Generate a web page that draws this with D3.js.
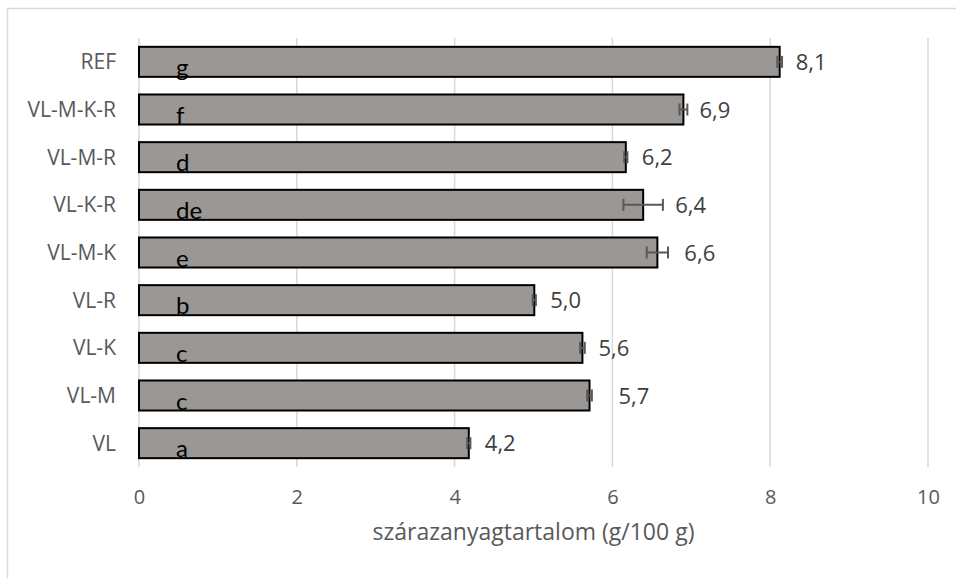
<!DOCTYPE html>
<html>
<head>
<meta charset="utf-8">
<script src="https://cdn.jsdelivr.net/npm/d3@7"></script>
<style>
  html, body { margin: 0; padding: 0; background: #ffffff; }
  svg { display: block; }
  text { font-family: "Open Sans", sans-serif; }
</style>
</head>
<body>
<svg id="chart" width="956" height="578"></svg>
<script>
// Treatments, top to bottom
const categories = ["REF", "VL-M-K-R", "VL-M-R", "VL-K-R", "VL-M-K", "VL-R", "VL-K", "VL-M", "VL"];
// Dry matter content (g/100 g)
const values = [8.12, 6.90, 6.17, 6.39, 6.57, 5.01, 5.62, 5.71, 4.18];
// Standard deviations
const errors = [0.03, 0.05, 0.02, 0.25, 0.135, 0.02, 0.03, 0.03, 0.02];
// Printed value labels
const valueLabels = ["8,1", "6,9", "6,2", "6,4", "6,6", "5,0", "5,6", "5,7", "4,2"];
// Significance group letters
const groups = ["g", "f", "d", "de", "e", "b", "c", "c", "a"];
// Axis ticks
const xTicks = [0, 2, 4, 6, 8, 10];
const axisTitle = "szárazanyagtartalom (g/100 g)";

// Extra horizontal nudge (px) for individual value labels
const labelNudge = [0, 0, 0, 16, 11, 0, 0, 13, 0];

const svg = d3.select("#chart");
const margin = { left: 139, right: 28, top: 38, bottom: 111 };
const W = 956, H = 578;

// Outer chart frame
svg.append("rect")
  .attr("x", 7.5).attr("y", 8.5)
  .attr("width", 1000).attr("height", 1000)
  .attr("fill", "#ffffff")
  .attr("stroke", "#d9d9d9").attr("stroke-width", 1.5);

const x = d3.scaleLinear().domain([0, 10]).range([margin.left, W - margin.right]);
const y = d3.scaleBand().domain(categories)
  .range([margin.top, H - margin.bottom]).paddingInner(0.37).paddingOuter(0.185);

// Vertical gridlines
svg.append("g")
  .selectAll("line").data(xTicks).join("line")
  .attr("x1", d => x(d)).attr("x2", d => x(d))
  .attr("y1", margin.top).attr("y2", H - margin.bottom)
  .attr("stroke", "#d9d9d9").attr("stroke-width", 1.5);

// X axis tick labels
const xAxis = d3.axisBottom(x).tickValues(xTicks).tickSize(0).tickPadding(0)
  .tickFormat(d3.format("d"));
const gx = svg.append("g")
  .attr("transform", `translate(0,${H - margin.bottom})`)
  .call(xAxis);
gx.select(".domain").remove();
gx.selectAll("text")
  .attr("dy", null).attr("y", 37)
  .attr("fill", "#595959").attr("font-size", 20);

// Y axis category labels
const yAxis = d3.axisLeft(y).tickSize(0).tickPadding(23);
const gy = svg.append("g")
  .attr("transform", `translate(${margin.left},0)`)
  .call(yAxis);
gy.select(".domain").remove();
gy.selectAll("text")
  .attr("dy", "0.36em")
  .attr("fill", "#595959").attr("font-size", 21);

// Bars
svg.append("g")
  .selectAll("rect").data(categories).join("rect")
  .attr("x", x(0))
  .attr("y", d => y(d))
  .attr("width", (d, i) => x(values[i]) - x(0))
  .attr("height", y.bandwidth())
  .attr("fill", "#9b9794")
  .attr("stroke", "#000000").attr("stroke-width", 2);

// Error bars
const eb = svg.append("g").attr("stroke", "#595959").attr("stroke-width", 2);
categories.forEach((c, i) => {
  const cy = y(c) + y.bandwidth() / 2;
  const x0 = x(values[i] - errors[i]), x1 = x(values[i] + errors[i]);
  eb.append("line").attr("x1", x0).attr("x2", x1).attr("y1", cy).attr("y2", cy);
  [x0, x1].forEach(xx =>
    eb.append("line").attr("x1", xx).attr("x2", xx).attr("y1", cy - 6).attr("y2", cy + 6));
});

// Value labels
svg.append("g")
  .selectAll("text").data(categories).join("text")
  .attr("x", (d, i) => x(values[i]) + 16 + labelNudge[i])
  .attr("y", d => y(d) + y.bandwidth() / 2 + 8)
  .attr("fill", "#404040").attr("font-size", 22)
  .text((d, i) => valueLabels[i]);

// Group letters
svg.append("g")
  .selectAll("text").data(categories).join("text")
  .attr("x", x(0.47))
  .attr("y", d => y(d) + y.bandwidth() - 1)
  .attr("fill", "#000000").attr("font-size", 24)
  .style("font-family", "Lato, sans-serif")
  .text((d, i) => groups[i]);

// Axis title
svg.append("text")
  .attr("x", (x(0) + x(10)) / 2).attr("y", 540)
  .attr("text-anchor", "middle")
  .attr("fill", "#595959").attr("font-size", 23)
  .text(axisTitle);
</script>
</body>
</html>
